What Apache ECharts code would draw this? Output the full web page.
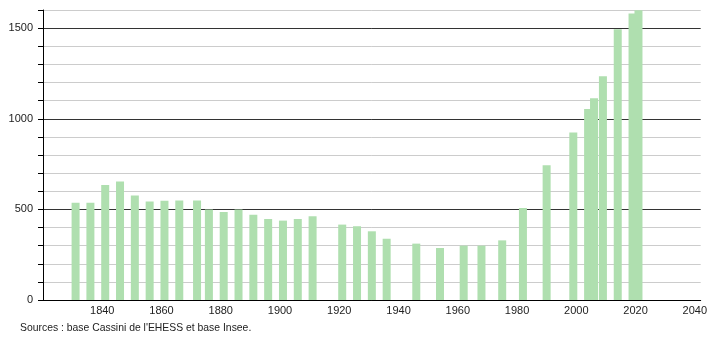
<!DOCTYPE html>
<html>
<head>
<meta charset="utf-8">
<script src="https://cdn.jsdelivr.net/npm/echarts@6/dist/echarts.min.js"></script>
<style>
html,body{margin:0;padding:0;background:#fff;}
#chart{width:710px;height:340px;}
</style>
</head>
<body>
<div id="chart"></div>
<script>
var years = [1831,1836,1841,1846,1851,1856,1861,1866,1872,1876,1881,1886,1891,1896,1901,1906,1911,1921,1926,1931,1936,1946,1954,1962,1968,1975,1982,1990,1999,2004,2006,2009,2014,2019,2021];
var population = [536,536,634,654,577,543,547,549,549,499,486,499,470,447,438,447,462,416,407,379,338,311,287,300,300,329,508,743,924,1054,1113,1235,1494,1581,1599];
var xTickLabels = [1840,1860,1880,1900,1920,1940,1960,1980,2000,2020,2040];
var yTickLabels = [0,500,1000,1500];
var sourceText = "Sources : base Cassini de l'EHESS et base Insee.";

var chart = echarts.init(document.getElementById('chart'), null, {renderer:'canvas'});
var font = "'Liberation Sans',Arial,sans-serif";
var pts = years.map(function(y,i){ return [y, population[i]]; });

chart.setOption({
  animation:false,
  backgroundColor:'#ffffff',
  grid:{left:43,right:8,top:10,bottom:40,containLabel:false},
  xAxis:{
    type:'value', min:1820, max:2042, interval:20,
    axisLine:{show:true,lineStyle:{color:'#000',width:1}},
    axisTick:{show:false},
    splitLine:{show:false},
    axisLabel:{
      color:'#222', fontSize:11, fontFamily:font, margin:5,
      formatter:function(v){ return xTickLabels.indexOf(v) >= 0 ? String(v) : ''; }
    }
  },
  yAxis:{
    type:'value', min:0, max:1600, interval:100,
    axisLine:{show:true,lineStyle:{color:'#000',width:1}},
    axisTick:{show:true,length:5,lineStyle:{color:'#000'}},
    splitLine:{show:true,lineStyle:{color:['#333','#cccccc','#cccccc','#cccccc','#cccccc'],width:1}},
    axisLabel:{
      color:'#222', fontSize:11, fontFamily:font, margin:10,
      formatter:function(v){ return yTickLabels.indexOf(v) >= 0 ? String(v) : ''; }
    }
  },
  series:[{
    type:'bar',
    data:pts,
    barWidth:8,
    itemStyle:{color:'#afdfaf'},
    emphasis:{disabled:true}
  }],
  graphic:[{
    type:'text', left:20, top:323,
    style:{text:sourceText, fill:'#222', font:'10.4px ' + font}
  }]
});
</script>
</body>
</html>
